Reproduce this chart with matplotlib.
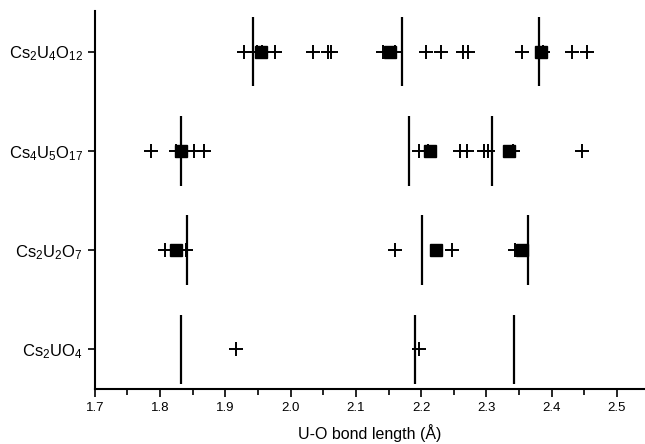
import matplotlib.pyplot as plt
from matplotlib.ticker import MultipleLocator

plt.rcParams['font.family'] = ['Liberation Sans', 'DejaVu Sans']
plt.rcParams['mathtext.fontset'] = 'custom'
plt.rcParams['mathtext.rm'] = 'Liberation Sans'
plt.rcParams['mathtext.it'] = 'Liberation Sans:italic'

compounds = [r'Cs$_2$UO$_4$', r'Cs$_2$U$_2$O$_7$', r'Cs$_4$U$_5$O$_{17}$', r'Cs$_2$U$_4$O$_{12}$']

# individual bond lengths (+)
bonds = [
    [1.916, 2.197],
    [1.807, 1.839, 2.160, 2.248, 2.344],
    [1.786, 1.825, 1.852, 1.868, 2.197, 2.210, 2.259, 2.271, 2.297, 2.303, 2.340, 2.447],
    [1.929, 1.948, 1.956, 1.976, 2.034, 2.058, 2.062, 2.142, 2.160, 2.208, 2.231,
     2.2645, 2.272, 2.355, 2.386, 2.431, 2.4535],
]
# averaged bond lengths (squares)
averages = [
    [],
    [1.824, 2.223, 2.354],
    [1.832, 2.213, 2.334],
    [1.954, 2.153, 2.383],
]
# reference bond lengths (vertical bars)
references = [
    [1.832, 2.190, 2.342],
    [1.841, 2.202, 2.363],
    [1.832, 2.182, 2.309],
    [1.942, 2.170, 2.380],
]

fig = plt.figure(figsize=(6.45, 4.44), dpi=100)
ax = fig.add_axes([0.147, 0.124, 0.853, 0.851])

for i in range(len(compounds)):
    ax.vlines(references[i], i - 0.35, i + 0.35, color='black', lw=1.6)
    ax.plot(averages[i], [i] * len(averages[i]), 's', color='black', ms=8.5)
    ax.plot(bonds[i], [i] * len(bonds[i]), '+', color='black', ms=10, mew=1.4)

ax.set_xlim(1.7, 2.543)
ax.set_ylim(-0.4, 3.41)
ax.set_yticks(range(len(compounds)))
ax.set_yticklabels(compounds, fontsize=12)
ax.xaxis.set_major_locator(MultipleLocator(0.1))
ax.xaxis.set_minor_locator(MultipleLocator(0.05))
ax.tick_params(axis='x', which='major', direction='out', length=6, width=1.2, labelsize=9.5)
ax.tick_params(axis='x', which='minor', direction='out', length=4, width=1.2)
ax.tick_params(axis='y', direction='out', length=5, width=1.2)
ax.set_xlabel('U-O bond length (Å)', fontsize=11.5, labelpad=7)

for side in ('top', 'right'):
    ax.spines[side].set_visible(False)
for side in ('left', 'bottom'):
    ax.spines[side].set_linewidth(1.5)

fig.savefig('out.png', dpi=100)
